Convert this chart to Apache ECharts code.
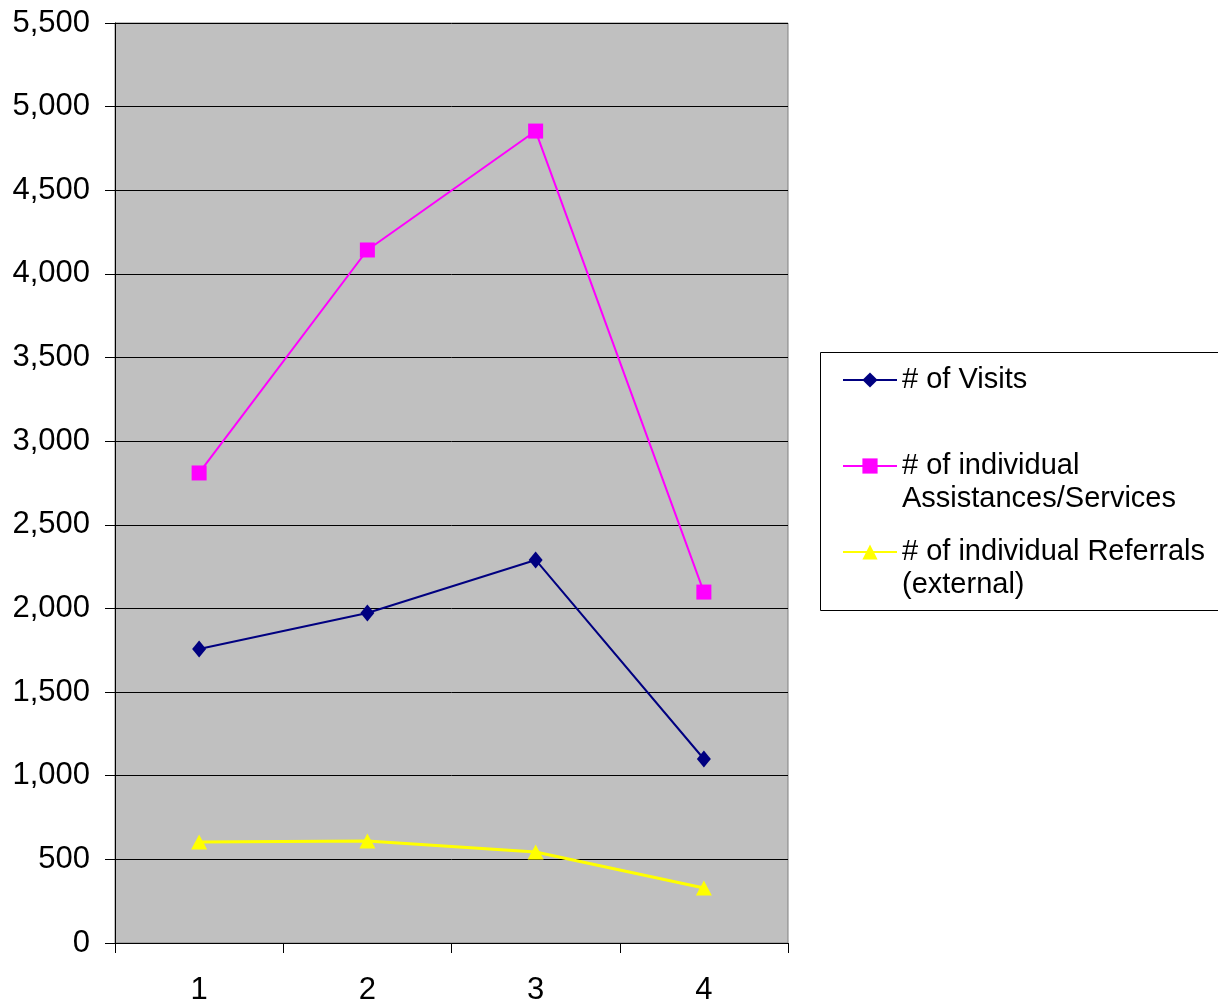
<!DOCTYPE html>
<html>
<head>
<meta charset="utf-8">
<script src="https://cdn.jsdelivr.net/npm/echarts@6/dist/echarts.min.js"></script>
<style>
html,body{margin:0;padding:0;background:#fff;}
#chart{width:1218px;height:1003px;}
</style>
</head>
<body>
<div id="chart"></div>
<script>
var categories = ['1', '2', '3', '4'];
var visits = [1757, 1973, 2290, 1100];
var assistances = [2810, 4143, 4854, 2098];
var referrals = [604, 610, 544, 329];
var seriesNames = ['# of Visits', '# of individual Assistances/Services', '# of individual Referrals (external)'];
var legendLabels = ['# of Visits', '\n# of individual\nAssistances/Services', '\n# of individual Referrals\n(external)'];
var yMin = 0, yMax = 5500, yStep = 500;

var FONT = '"Liberation Sans", Arial, sans-serif';
var chart = echarts.init(document.getElementById('chart'), null, {renderer: 'canvas'});

function makeLegend(i, top) {
  return {
    data: [seriesNames[i]],
    orient: 'vertical',
    left: 842,
    top: top,
    padding: 0,
    itemWidth: 54,
    itemHeight: 19,
    formatter: function () { return legendLabels[i]; },
    textStyle: {fontFamily: FONT, fontSize: 29, color: '#000', lineHeight: 33},
    selectedMode: false
  };
}

chart.setOption({
  animation: false,
  backgroundColor: '#fff',
  grid: {
    left: 115, top: 23, right: 430, bottom: 60,
    containLabel: false, outerBoundsMode: 'none',
    show: true, backgroundColor: '#C0C0C0', borderColor: '#808080', borderWidth: 1
  },
  graphic: [{
    type: 'rect', silent: true,
    shape: {x: 820.5, y: 352.5, width: 420, height: 258},
    style: {fill: '#fff', stroke: '#000', lineWidth: 1},
    z: -1
  }],
  legend: [makeLegend(0, 363.5), makeLegend(1, 416.5), makeLegend(2, 502.5)],
  xAxis: {
    type: 'category',
    data: categories,
    boundaryGap: true,
    axisLine: {show: true, lineStyle: {color: '#000', width: 1}},
    axisTick: {show: true, length: 10, lineStyle: {color: '#000'}},
    axisLabel: {fontFamily: FONT, fontSize: 31, color: '#000', margin: 32},
    splitLine: {show: false}
  },
  yAxis: {
    type: 'value',
    min: yMin, max: yMax, interval: yStep,
    axisLine: {show: true, lineStyle: {color: '#000', width: 1}},
    axisTick: {show: true, length: 10, lineStyle: {color: '#000'}},
    axisLabel: {
      fontFamily: FONT, fontSize: 31, color: '#000', margin: 25,
      formatter: function (v) { return v.toLocaleString('en-US'); }
    },
    splitLine: {show: true, lineStyle: {color: '#000', width: 1}}
  },
  series: [
    {
      name: seriesNames[0], type: 'line', data: visits,
      symbol: 'diamond', symbolSize: [14, 17],
      lineStyle: {color: '#000080', width: 2},
      itemStyle: {color: '#000080'}
    },
    {
      name: seriesNames[1], type: 'line', data: assistances,
      symbol: 'rect', symbolSize: 15,
      lineStyle: {color: '#FF00FF', width: 2},
      itemStyle: {color: '#FF00FF'}
    },
    {
      name: seriesNames[2], type: 'line', data: referrals,
      symbol: 'triangle', symbolSize: [16, 15],
      lineStyle: {color: '#FFFF00', width: 3},
      itemStyle: {color: '#FFFF00'}
    }
  ]
});
</script>
</body>
</html>
